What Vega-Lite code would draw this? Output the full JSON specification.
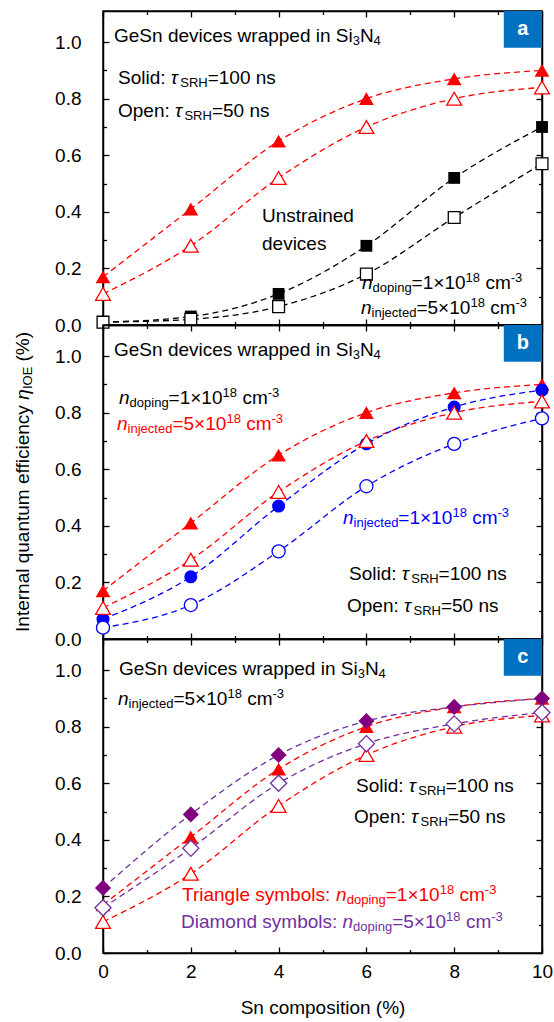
{
"$schema": "https://vega.github.io/schema/vega-lite/v6.json",
"padding": {"left": 13, "top": 9, "right": 0, "bottom": 5},
"bounds": "flush",
"spacing": 0,
"config": {"font": "Liberation Sans", "view": {"stroke": "black", "strokeWidth": 1.5},
  "axis": {"labelFont": "Liberation Sans", "labelFontSize": 19, "labelColor": "black", "tickColor": "black", "tickWidth": 1.3, "domainColor": "black", "domainWidth": 1.5, "grid": false, "labelFlush": false, "labelOverlap": false, "titleFont": "Liberation Sans", "titleFontSize": 19, "titleFontWeight": "normal", "titleColor": "black"}},
"datasets": {
"pts": [
{"panel":"a","sn":0,"iqe":0.17,"series":"tri","tau":100},{"panel":"a","sn":2,"iqe":0.41,"series":"tri","tau":100},{"panel":"a","sn":4,"iqe":0.65,"series":"tri","tau":100},{"panel":"a","sn":6,"iqe":0.80,"series":"tri","tau":100},{"panel":"a","sn":8,"iqe":0.87,"series":"tri","tau":100},{"panel":"a","sn":10,"iqe":0.90,"series":"tri","tau":100},
{"panel":"a","sn":0,"iqe":0.11,"series":"tri","tau":50},{"panel":"a","sn":2,"iqe":0.28,"series":"tri","tau":50},{"panel":"a","sn":4,"iqe":0.52,"series":"tri","tau":50},{"panel":"a","sn":6,"iqe":0.70,"series":"tri","tau":50},{"panel":"a","sn":8,"iqe":0.80,"series":"tri","tau":50},{"panel":"a","sn":10,"iqe":0.84,"series":"tri","tau":50},
{"panel":"a","sn":0,"iqe":0.01,"series":"sq","tau":100},{"panel":"a","sn":2,"iqe":0.03,"series":"sq","tau":100},{"panel":"a","sn":4,"iqe":0.11,"series":"sq","tau":100},{"panel":"a","sn":6,"iqe":0.28,"series":"sq","tau":100},{"panel":"a","sn":8,"iqe":0.52,"series":"sq","tau":100},{"panel":"a","sn":10,"iqe":0.70,"series":"sq","tau":100},
{"panel":"a","sn":0,"iqe":0.01,"series":"sq","tau":50},{"panel":"a","sn":2,"iqe":0.02,"series":"sq","tau":50},{"panel":"a","sn":4,"iqe":0.065,"series":"sq","tau":50},{"panel":"a","sn":6,"iqe":0.18,"series":"sq","tau":50},{"panel":"a","sn":8,"iqe":0.38,"series":"sq","tau":50},{"panel":"a","sn":10,"iqe":0.57,"series":"sq","tau":50},
{"panel":"b","sn":0,"iqe":0.17,"series":"tri","tau":100},{"panel":"b","sn":2,"iqe":0.41,"series":"tri","tau":100},{"panel":"b","sn":4,"iqe":0.65,"series":"tri","tau":100},{"panel":"b","sn":6,"iqe":0.80,"series":"tri","tau":100},{"panel":"b","sn":8,"iqe":0.87,"series":"tri","tau":100},{"panel":"b","sn":10,"iqe":0.90,"series":"tri","tau":100},
{"panel":"b","sn":0,"iqe":0.11,"series":"tri","tau":50},{"panel":"b","sn":2,"iqe":0.28,"series":"tri","tau":50},{"panel":"b","sn":4,"iqe":0.52,"series":"tri","tau":50},{"panel":"b","sn":6,"iqe":0.70,"series":"tri","tau":50},{"panel":"b","sn":8,"iqe":0.80,"series":"tri","tau":50},{"panel":"b","sn":10,"iqe":0.84,"series":"tri","tau":50},
{"panel":"b","sn":0,"iqe":0.07,"series":"circ","tau":100},{"panel":"b","sn":2,"iqe":0.22,"series":"circ","tau":100},{"panel":"b","sn":4,"iqe":0.47,"series":"circ","tau":100},{"panel":"b","sn":6,"iqe":0.69,"series":"circ","tau":100},{"panel":"b","sn":8,"iqe":0.82,"series":"circ","tau":100},{"panel":"b","sn":10,"iqe":0.88,"series":"circ","tau":100},
{"panel":"b","sn":0,"iqe":0.04,"series":"circ","tau":50},{"panel":"b","sn":2,"iqe":0.12,"series":"circ","tau":50},{"panel":"b","sn":4,"iqe":0.31,"series":"circ","tau":50},{"panel":"b","sn":6,"iqe":0.54,"series":"circ","tau":50},{"panel":"b","sn":8,"iqe":0.69,"series":"circ","tau":50},{"panel":"b","sn":10,"iqe":0.78,"series":"circ","tau":50},
{"panel":"c","sn":0,"iqe":0.17,"series":"tri","tau":100},{"panel":"c","sn":2,"iqe":0.41,"series":"tri","tau":100},{"panel":"c","sn":4,"iqe":0.65,"series":"tri","tau":100},{"panel":"c","sn":6,"iqe":0.80,"series":"tri","tau":100},{"panel":"c","sn":8,"iqe":0.87,"series":"tri","tau":100},{"panel":"c","sn":10,"iqe":0.90,"series":"tri","tau":100},
{"panel":"c","sn":0,"iqe":0.11,"series":"tri","tau":50},{"panel":"c","sn":2,"iqe":0.28,"series":"tri","tau":50},{"panel":"c","sn":4,"iqe":0.52,"series":"tri","tau":50},{"panel":"c","sn":6,"iqe":0.70,"series":"tri","tau":50},{"panel":"c","sn":8,"iqe":0.80,"series":"tri","tau":50},{"panel":"c","sn":10,"iqe":0.84,"series":"tri","tau":50},
{"panel":"c","sn":0,"iqe":0.23,"series":"dia","tau":100},{"panel":"c","sn":2,"iqe":0.49,"series":"dia","tau":100},{"panel":"c","sn":4,"iqe":0.70,"series":"dia","tau":100},{"panel":"c","sn":6,"iqe":0.82,"series":"dia","tau":100},{"panel":"c","sn":8,"iqe":0.87,"series":"dia","tau":100},{"panel":"c","sn":10,"iqe":0.90,"series":"dia","tau":100},
{"panel":"c","sn":0,"iqe":0.16,"series":"dia","tau":50},{"panel":"c","sn":2,"iqe":0.37,"series":"dia","tau":50},{"panel":"c","sn":4,"iqe":0.60,"series":"dia","tau":50},{"panel":"c","sn":6,"iqe":0.74,"series":"dia","tau":50},{"panel":"c","sn":8,"iqe":0.81,"series":"dia","tau":50},{"panel":"c","sn":10,"iqe":0.85,"series":"dia","tau":50}
],
"txt": [
{"p":"a","r":"main","g":"sq","x":0.251,"y":1.0,"t":"GeSn devices wrapped in Si"},{"p":"a","r":"sub","g":"sq","x":5.688,"y":1.0,"t":"3"},{"p":"a","r":"main","g":"sq","x":5.852,"y":1.0,"t":"N"},{"p":"a","r":"sub","g":"sq","x":6.164,"y":1.0,"t":"4"},
{"p":"a","r":"main","g":"sq","x":0.342,"y":0.852,"t":"Solid:"},{"p":"a","r":"ital","g":"sq","x":1.545,"y":0.852,"t":"τ"},{"p":"a","r":"sub","g":"sq","x":1.761,"y":0.852,"t":"SRH"},{"p":"a","r":"main","g":"sq","x":2.385,"y":0.852,"t":"=100 ns"},
{"p":"a","r":"main","g":"sq","x":0.342,"y":0.735,"t":"Open:"},{"p":"a","r":"ital","g":"sq","x":1.640,"y":0.735,"t":"τ"},{"p":"a","r":"sub","g":"sq","x":1.854,"y":0.735,"t":"SRH"},{"p":"a","r":"main","g":"sq","x":2.481,"y":0.735,"t":"=50 ns"},
{"p":"a","r":"main","g":"sq","x":3.622,"y":0.364,"t":"Unstrained"},{"p":"a","r":"main","g":"sq","x":3.622,"y":0.265,"t":"devices"},
{"p":"a","r":"ital","g":"sq","x":5.900,"y":0.127,"t":"n"},{"p":"a","r":"sub","g":"sq","x":6.141,"y":0.127,"t":"doping"},{"p":"a","r":"main","g":"sq","x":7.030,"y":0.127,"t":"=1×10"},{"p":"a","r":"sup","g":"sq","x":8.260,"y":0.127,"t":"18"},{"p":"a","r":"main","g":"sq","x":8.711,"y":0.127,"t":"cm"},{"p":"a","r":"sup","g":"sq","x":9.287,"y":0.127,"t":"-3"},
{"p":"a","r":"ital","g":"sq","x":5.877,"y":0.039,"t":"n"},{"p":"a","r":"sub","g":"sq","x":6.118,"y":0.039,"t":"injected"},{"p":"a","r":"main","g":"sq","x":7.139,"y":0.039,"t":"=5×10"},{"p":"a","r":"sup","g":"sq","x":8.369,"y":0.039,"t":"18"},{"p":"a","r":"main","g":"sq","x":8.821,"y":0.039,"t":"cm"},{"p":"a","r":"sup","g":"sq","x":9.396,"y":0.039,"t":"-3"},
{"p":"b","r":"main","g":"sq","x":0.251,"y":1.0,"t":"GeSn devices wrapped in Si"},{"p":"b","r":"sub","g":"sq","x":5.688,"y":1.0,"t":"3"},{"p":"b","r":"main","g":"sq","x":5.852,"y":1.0,"t":"N"},{"p":"b","r":"sub","g":"sq","x":6.164,"y":1.0,"t":"4"},
{"p":"b","r":"ital","g":"sq","x":0.364,"y":0.831,"t":"n"},{"p":"b","r":"sub","g":"sq","x":0.606,"y":0.831,"t":"doping"},{"p":"b","r":"main","g":"sq","x":1.494,"y":0.831,"t":"=1×10"},{"p":"b","r":"sup","g":"sq","x":2.724,"y":0.831,"t":"18"},{"p":"b","r":"main","g":"sq","x":3.176,"y":0.831,"t":"cm"},{"p":"b","r":"sup","g":"sq","x":3.752,"y":0.831,"t":"-3"},
{"p":"b","r":"ital","g":"tri","x":0.319,"y":0.739,"t":"n"},{"p":"b","r":"sub","g":"tri","x":0.560,"y":0.739,"t":"injected"},{"p":"b","r":"main","g":"tri","x":1.581,"y":0.739,"t":"=5×10"},{"p":"b","r":"sup","g":"tri","x":2.811,"y":0.739,"t":"18"},{"p":"b","r":"main","g":"tri","x":3.262,"y":0.739,"t":"cm"},{"p":"b","r":"sup","g":"tri","x":3.838,"y":0.739,"t":"-3"},
{"p":"b","r":"ital","g":"circ","x":5.467,"y":0.407,"t":"n"},{"p":"b","r":"sub","g":"circ","x":5.708,"y":0.407,"t":"injected"},{"p":"b","r":"main","g":"circ","x":6.727,"y":0.407,"t":"=1×10"},{"p":"b","r":"sup","g":"circ","x":7.959,"y":0.407,"t":"18"},{"p":"b","r":"main","g":"circ","x":8.410,"y":0.407,"t":"cm"},{"p":"b","r":"sup","g":"circ","x":8.986,"y":0.407,"t":"-3"},
{"p":"b","r":"main","g":"sq","x":5.604,"y":0.209,"t":"Solid:"},{"p":"b","r":"ital","g":"sq","x":6.806,"y":0.209,"t":"τ"},{"p":"b","r":"sub","g":"sq","x":7.023,"y":0.209,"t":"SRH"},{"p":"b","r":"main","g":"sq","x":7.645,"y":0.209,"t":"=100 ns"},
{"p":"b","r":"main","g":"sq","x":5.558,"y":0.095,"t":"Open:"},{"p":"b","r":"ital","g":"sq","x":6.856,"y":0.095,"t":"τ"},{"p":"b","r":"sub","g":"sq","x":7.073,"y":0.095,"t":"SRH"},{"p":"b","r":"main","g":"sq","x":7.697,"y":0.095,"t":"=50 ns"},
{"p":"b","r":"tmain","g":"sq","x":-1.686,"y":0.025,"t":"Internal quantum efficiency"},{"p":"b","r":"tital","g":"sq","x":-1.686,"y":0.846,"t":"η"},{"p":"b","r":"tsub","g":"sq","x":-1.686,"y":0.8835,"t":"IOE"},{"p":"b","r":"tmain","g":"sq","x":-1.686,"y":0.981,"t":"(%)"},
{"p":"c","r":"main","g":"sq","x":0.364,"y":0.983,"t":"GeSn devices wrapped in Si"},{"p":"c","r":"sub","g":"sq","x":5.802,"y":0.983,"t":"3"},{"p":"c","r":"main","g":"sq","x":5.966,"y":0.983,"t":"N"},{"p":"c","r":"sub","g":"sq","x":6.278,"y":0.983,"t":"4"},
{"p":"c","r":"ital","g":"sq","x":0.342,"y":0.877,"t":"n"},{"p":"c","r":"sub","g":"sq","x":0.583,"y":0.877,"t":"injected"},{"p":"c","r":"main","g":"sq","x":1.604,"y":0.877,"t":"=5×10"},{"p":"c","r":"sup","g":"sq","x":2.834,"y":0.877,"t":"18"},{"p":"c","r":"main","g":"sq","x":3.285,"y":0.877,"t":"cm"},{"p":"c","r":"sup","g":"sq","x":3.861,"y":0.877,"t":"-3"},
{"p":"c","r":"main","g":"sq","x":5.763,"y":0.569,"t":"Solid:"},{"p":"c","r":"ital","g":"sq","x":6.966,"y":0.569,"t":"τ"},{"p":"c","r":"sub","g":"sq","x":7.182,"y":0.569,"t":"SRH"},{"p":"c","r":"main","g":"sq","x":7.806,"y":0.569,"t":"=100 ns"},
{"p":"c","r":"main","g":"sq","x":5.718,"y":0.460,"t":"Open:"},{"p":"c","r":"ital","g":"sq","x":7.016,"y":0.460,"t":"τ"},{"p":"c","r":"sub","g":"sq","x":7.232,"y":0.460,"t":"SRH"},{"p":"c","r":"main","g":"sq","x":7.856,"y":0.460,"t":"=50 ns"},
{"p":"c","r":"main","g":"tri","x":1.800,"y":0.184,"t":"Triangle symbols:"},{"p":"c","r":"ital","g":"tri","x":5.310,"y":0.184,"t":"n"},{"p":"c","r":"sub","g":"tri","x":5.551,"y":0.184,"t":"doping"},{"p":"c","r":"main","g":"tri","x":6.440,"y":0.184,"t":"=1×10"},{"p":"c","r":"sup","g":"tri","x":7.670,"y":0.184,"t":"18"},{"p":"c","r":"main","g":"tri","x":8.121,"y":0.184,"t":"cm"},{"p":"c","r":"sup","g":"tri","x":8.697,"y":0.184,"t":"-3"},
{"p":"c","r":"main","g":"dia","x":1.777,"y":0.088,"t":"Diamond symbols:"},{"p":"c","r":"ital","g":"dia","x":5.456,"y":0.088,"t":"n"},{"p":"c","r":"sub","g":"dia","x":5.697,"y":0.088,"t":"doping"},{"p":"c","r":"main","g":"dia","x":6.586,"y":0.088,"t":"=5×10"},{"p":"c","r":"sup","g":"dia","x":7.816,"y":0.088,"t":"18"},{"p":"c","r":"main","g":"dia","x":8.267,"y":0.088,"t":"cm"},{"p":"c","r":"sup","g":"dia","x":8.843,"y":0.088,"t":"-3"}
],
"tags": [
{"p":"a","x":9.13,"x2":10,"y":0.98,"y2":1.11,"xc":9.565,"yc":1.045,"t":"a"},
{"p":"b","x":9.13,"x2":10,"y":0.98,"y2":1.11,"xc":9.565,"yc":1.045,"t":"b"},
{"p":"c","x":9.13,"x2":10,"y":0.98,"y2":1.11,"xc":9.565,"yc":1.045,"t":"c"}
]
},
"vconcat": [
{"width": 439, "height": 314, "resolve": {"axis": {"x": "independent", "y": "independent"}},
 "layer": [
  {"data": {"name": "pts"}, "transform": [{"filter": "datum.panel == 'a'"}],
   "mark": {"type": "line", "strokeDash": [6, 4], "strokeWidth": 1.3, "interpolate": "monotone"},
   "encoding": {
    "x": {"field": "sn", "type": "quantitative", "scale": {"domain": [0, 10], "nice": false}, "axis": {"orient": "bottom", "values": [0,1,2,3,4,5,6,7,8,9,10], "labels": false, "title": null, "tickSize": {"condition": {"test": "datum.value % 2 == 0", "value": -6}, "value": -3.5}}},
    "y": {"field": "iqe", "type": "quantitative", "scale": {"domain": [0, 1.11], "nice": false, "zero": false}, "axis": {"orient": "left", "values": [0,0.1,0.2,0.3,0.4,0.5,0.6,0.7,0.8,0.9,1.0], "labelExpr": "round(datum.value*10) % 2 == 0 ? format(datum.value, '.1f') : ''", "labelPadding": 28, "title": null, "tickSize": {"condition": {"test": "round(datum.value*10) % 2 == 0", "value": -6}, "value": -3.5}}},
    "color": {"field": "series", "type": "nominal", "scale": {"domain": ["tri","sq","circ","dia"], "range": ["#FF0000","#000000","#0000FF","#7030A0"]}, "legend": null},
    "detail": {"field": "tau"}}},
  {"data": {"name": "pts"}, "transform": [{"filter": "datum.panel == 'a' && datum.tau == 100"}],
   "mark": {"type": "point", "filled": true, "opacity": 1},
   "encoding": {
    "x": {"field": "sn", "type": "quantitative", "axis": {"orient": "top", "values": [0,1,2,3,4,5,6,7,8,9,10], "labels": false, "title": null, "tickSize": {"condition": {"test": "datum.value % 2 == 0", "value": -6}, "value": -3.5}}},
    "y": {"field": "iqe", "type": "quantitative", "axis": {"orient": "right", "values": [0,0.1,0.2,0.3,0.4,0.5,0.6,0.7,0.8,0.9,1.0,1.1], "labels": false, "title": null, "tickSize": {"condition": {"test": "round(datum.value*10) % 2 == 0", "value": -6}, "value": -3.5}}},
    "shape": {"field": "series", "type": "nominal", "scale": {"domain": ["tri","sq","circ","dia"], "range": ["triangle-up","square","circle","diamond"]}, "legend": null},
    "size": {"field": "series", "type": "nominal", "scale": {"type": "ordinal", "domain": ["tri","sq","circ","dia"], "range": [220,140,170,260]}, "legend": null},
    "fill": {"field": "series", "type": "nominal", "scale": {"domain": ["tri","sq","circ","dia"], "range": ["#FF0000","#000000","#0000FF","#800080"]}, "legend": null}}},
  {"data": {"name": "pts"}, "transform": [{"filter": "datum.panel == 'a' && datum.tau == 50"}],
   "mark": {"type": "point", "filled": false, "fill": "white", "fillOpacity": 1, "strokeWidth": 1.3, "opacity": 1},
   "encoding": {
    "x": {"field": "sn", "type": "quantitative", "axis": null},
    "y": {"field": "iqe", "type": "quantitative", "axis": null},
    "shape": {"field": "series", "type": "nominal", "scale": {"domain": ["tri","sq","circ","dia"], "range": ["triangle-up","square","circle","diamond"]}, "legend": null},
    "size": {"field": "series", "type": "nominal", "scale": {"type": "ordinal", "domain": ["tri","sq","circ","dia"], "range": [220,140,170,260]}, "legend": null},
    "stroke": {"field": "series", "type": "nominal", "scale": {"domain": ["tri","sq","circ","dia"], "range": ["#FF0000","#000000","#0000FF","#7030A0"]}, "legend": null}}},
  {"data": {"name": "txt"}, "transform": [{"filter": "datum.p == 'a' && datum.r == 'main'"}],
   "mark": {"type": "text", "align": "left", "baseline": "alphabetic", "fontSize": 19},
   "encoding": {"x": {"field": "x", "type": "quantitative", "axis": null}, "y": {"field": "y", "type": "quantitative", "axis": null}, "text": {"field": "t"}, "color": {"field": "g", "type": "nominal", "legend": null}}},
  {"data": {"name": "txt"}, "transform": [{"filter": "datum.p == 'a' && datum.r == 'ital'"}],
   "mark": {"type": "text", "align": "left", "baseline": "alphabetic", "fontSize": 19, "fontStyle": "italic"},
   "encoding": {"x": {"field": "x", "type": "quantitative", "axis": null}, "y": {"field": "y", "type": "quantitative", "axis": null}, "text": {"field": "t"}, "color": {"field": "g", "type": "nominal", "legend": null}}},
  {"data": {"name": "txt"}, "transform": [{"filter": "datum.p == 'a' && datum.r == 'sub'"}],
   "mark": {"type": "text", "align": "left", "baseline": "alphabetic", "fontSize": 13, "dy": 3},
   "encoding": {"x": {"field": "x", "type": "quantitative", "axis": null}, "y": {"field": "y", "type": "quantitative", "axis": null}, "text": {"field": "t"}, "color": {"field": "g", "type": "nominal", "legend": null}}},
  {"data": {"name": "txt"}, "transform": [{"filter": "datum.p == 'a' && datum.r == 'sup'"}],
   "mark": {"type": "text", "align": "left", "baseline": "alphabetic", "fontSize": 13, "dy": -7},
   "encoding": {"x": {"field": "x", "type": "quantitative", "axis": null}, "y": {"field": "y", "type": "quantitative", "axis": null}, "text": {"field": "t"}, "color": {"field": "g", "type": "nominal", "legend": null}}},
  {"data": {"name": "tags"}, "transform": [{"filter": "datum.p == 'a'"}],
   "mark": {"type": "rect", "fill": "#0070C0"},
   "encoding": {"x": {"field": "x", "type": "quantitative", "axis": null}, "x2": {"field": "x2"}, "y": {"field": "y", "type": "quantitative", "axis": null}, "y2": {"field": "y2"}}},
  {"data": {"name": "tags"}, "transform": [{"filter": "datum.p == 'a'"}],
   "mark": {"type": "text", "align": "center", "baseline": "middle", "fontSize": 20, "fontWeight": "bold", "fill": "white"},
   "encoding": {"x": {"field": "xc", "type": "quantitative", "axis": null}, "y": {"field": "yc", "type": "quantitative", "axis": null}, "text": {"field": "t"}}}
 ]},
{"width": 439, "height": 314, "resolve": {"axis": {"x": "independent", "y": "independent"}},
 "layer": [
  {"data": {"name": "pts"}, "transform": [{"filter": "datum.panel == 'b'"}],
   "mark": {"type": "line", "strokeDash": [6, 4], "strokeWidth": 1.3, "interpolate": "monotone"},
   "encoding": {
    "x": {"field": "sn", "type": "quantitative", "scale": {"domain": [0, 10], "nice": false}, "axis": {"orient": "bottom", "values": [0,1,2,3,4,5,6,7,8,9,10], "labels": false, "title": null, "tickSize": {"condition": {"test": "datum.value % 2 == 0", "value": -6}, "value": -3.5}}},
    "y": {"field": "iqe", "type": "quantitative", "scale": {"domain": [0, 1.11], "nice": false, "zero": false}, "axis": {"orient": "left", "values": [0,0.1,0.2,0.3,0.4,0.5,0.6,0.7,0.8,0.9,1.0], "labelExpr": "round(datum.value*10) % 2 == 0 ? format(datum.value, '.1f') : ''", "labelPadding": 28, "title": null, "tickSize": {"condition": {"test": "round(datum.value*10) % 2 == 0", "value": -6}, "value": -3.5}}},
    "color": {"field": "series", "type": "nominal", "scale": {"domain": ["tri","sq","circ","dia"], "range": ["#FF0000","#000000","#0000FF","#7030A0"]}, "legend": null},
    "detail": {"field": "tau"}}},
  {"data": {"name": "pts"}, "transform": [{"filter": "datum.panel == 'b' && datum.tau == 100"}],
   "mark": {"type": "point", "filled": true, "opacity": 1},
   "encoding": {
    "x": {"field": "sn", "type": "quantitative", "axis": {"orient": "top", "values": [0,1,2,3,4,5,6,7,8,9,10], "labels": false, "title": null, "tickSize": {"condition": {"test": "datum.value % 2 == 0", "value": -6}, "value": -3.5}}},
    "y": {"field": "iqe", "type": "quantitative", "axis": {"orient": "right", "values": [0,0.1,0.2,0.3,0.4,0.5,0.6,0.7,0.8,0.9,1.0,1.1], "labels": false, "title": null, "tickSize": {"condition": {"test": "round(datum.value*10) % 2 == 0", "value": -6}, "value": -3.5}}},
    "shape": {"field": "series", "type": "nominal", "scale": {"domain": ["tri","sq","circ","dia"], "range": ["triangle-up","square","circle","diamond"]}, "legend": null},
    "size": {"field": "series", "type": "nominal", "scale": {"type": "ordinal", "domain": ["tri","sq","circ","dia"], "range": [220,140,170,260]}, "legend": null},
    "fill": {"field": "series", "type": "nominal", "scale": {"domain": ["tri","sq","circ","dia"], "range": ["#FF0000","#000000","#0000FF","#800080"]}, "legend": null}}},
  {"data": {"name": "pts"}, "transform": [{"filter": "datum.panel == 'b' && datum.tau == 50"}],
   "mark": {"type": "point", "filled": false, "fill": "white", "fillOpacity": 1, "strokeWidth": 1.3, "opacity": 1},
   "encoding": {
    "x": {"field": "sn", "type": "quantitative", "axis": null},
    "y": {"field": "iqe", "type": "quantitative", "axis": null},
    "shape": {"field": "series", "type": "nominal", "scale": {"domain": ["tri","sq","circ","dia"], "range": ["triangle-up","square","circle","diamond"]}, "legend": null},
    "size": {"field": "series", "type": "nominal", "scale": {"type": "ordinal", "domain": ["tri","sq","circ","dia"], "range": [220,140,170,260]}, "legend": null},
    "stroke": {"field": "series", "type": "nominal", "scale": {"domain": ["tri","sq","circ","dia"], "range": ["#FF0000","#000000","#0000FF","#7030A0"]}, "legend": null}}},
  {"data": {"name": "txt"}, "transform": [{"filter": "datum.p == 'b' && datum.r == 'main'"}],
   "mark": {"type": "text", "align": "left", "baseline": "alphabetic", "fontSize": 19},
   "encoding": {"x": {"field": "x", "type": "quantitative", "axis": null}, "y": {"field": "y", "type": "quantitative", "axis": null}, "text": {"field": "t"}, "color": {"field": "g", "type": "nominal", "legend": null}}},
  {"data": {"name": "txt"}, "transform": [{"filter": "datum.p == 'b' && datum.r == 'ital'"}],
   "mark": {"type": "text", "align": "left", "baseline": "alphabetic", "fontSize": 19, "fontStyle": "italic"},
   "encoding": {"x": {"field": "x", "type": "quantitative", "axis": null}, "y": {"field": "y", "type": "quantitative", "axis": null}, "text": {"field": "t"}, "color": {"field": "g", "type": "nominal", "legend": null}}},
  {"data": {"name": "txt"}, "transform": [{"filter": "datum.p == 'b' && datum.r == 'sub'"}],
   "mark": {"type": "text", "align": "left", "baseline": "alphabetic", "fontSize": 13, "dy": 3},
   "encoding": {"x": {"field": "x", "type": "quantitative", "axis": null}, "y": {"field": "y", "type": "quantitative", "axis": null}, "text": {"field": "t"}, "color": {"field": "g", "type": "nominal", "legend": null}}},
  {"data": {"name": "txt"}, "transform": [{"filter": "datum.p == 'b' && datum.r == 'sup'"}],
   "mark": {"type": "text", "align": "left", "baseline": "alphabetic", "fontSize": 13, "dy": -7},
   "encoding": {"x": {"field": "x", "type": "quantitative", "axis": null}, "y": {"field": "y", "type": "quantitative", "axis": null}, "text": {"field": "t"}, "color": {"field": "g", "type": "nominal", "legend": null}}},
  {"data": {"name": "txt"}, "transform": [{"filter": "datum.p == 'b' && datum.r == 'tmain'"}],
   "mark": {"type": "text", "align": "left", "baseline": "alphabetic", "fontSize": 19, "angle": 270},
   "encoding": {"x": {"field": "x", "type": "quantitative", "axis": null}, "y": {"field": "y", "type": "quantitative", "axis": null}, "text": {"field": "t"}, "color": {"field": "g", "type": "nominal", "legend": null}}},
  {"data": {"name": "txt"}, "transform": [{"filter": "datum.p == 'b' && datum.r == 'tital'"}],
   "mark": {"type": "text", "align": "left", "baseline": "alphabetic", "fontSize": 19, "fontStyle": "italic", "angle": 270},
   "encoding": {"x": {"field": "x", "type": "quantitative", "axis": null}, "y": {"field": "y", "type": "quantitative", "axis": null}, "text": {"field": "t"}, "color": {"field": "g", "type": "nominal", "legend": null}}},
  {"data": {"name": "txt"}, "transform": [{"filter": "datum.p == 'b' && datum.r == 'tsub'"}],
   "mark": {"type": "text", "align": "left", "baseline": "alphabetic", "fontSize": 13, "dy": 3, "angle": 270},
   "encoding": {"x": {"field": "x", "type": "quantitative", "axis": null}, "y": {"field": "y", "type": "quantitative", "axis": null}, "text": {"field": "t"}, "color": {"field": "g", "type": "nominal", "legend": null}}},
  {"data": {"name": "tags"}, "transform": [{"filter": "datum.p == 'b'"}],
   "mark": {"type": "rect", "fill": "#0070C0"},
   "encoding": {"x": {"field": "x", "type": "quantitative", "axis": null}, "x2": {"field": "x2"}, "y": {"field": "y", "type": "quantitative", "axis": null}, "y2": {"field": "y2"}}},
  {"data": {"name": "tags"}, "transform": [{"filter": "datum.p == 'b'"}],
   "mark": {"type": "text", "align": "center", "baseline": "middle", "fontSize": 20, "fontWeight": "bold", "fill": "white"},
   "encoding": {"x": {"field": "xc", "type": "quantitative", "axis": null}, "y": {"field": "yc", "type": "quantitative", "axis": null}, "text": {"field": "t"}}}
 ]},
{"width": 439, "height": 314, "resolve": {"axis": {"x": "independent", "y": "independent"}},
 "layer": [
  {"data": {"name": "pts"}, "transform": [{"filter": "datum.panel == 'c'"}],
   "mark": {"type": "line", "strokeDash": [6, 4], "strokeWidth": 1.3, "interpolate": "monotone"},
   "encoding": {
    "x": {"field": "sn", "type": "quantitative", "scale": {"domain": [0, 10], "nice": false}, "axis": {"orient": "bottom", "values": [0,1,2,3,4,5,6,7,8,9,10], "labelExpr": "datum.value % 2 == 0 ? format(datum.value, 'd') : ''", "labelPadding": 15, "title": "Sn composition (%)", "titlePadding": 15, "tickSize": {"condition": {"test": "datum.value % 2 == 0", "value": -6}, "value": -3.5}}},
    "y": {"field": "iqe", "type": "quantitative", "scale": {"domain": [0, 1.11], "nice": false, "zero": false}, "axis": {"orient": "left", "values": [0,0.1,0.2,0.3,0.4,0.5,0.6,0.7,0.8,0.9,1.0], "labelExpr": "round(datum.value*10) % 2 == 0 ? format(datum.value, '.1f') : ''", "labelPadding": 28, "title": null, "tickSize": {"condition": {"test": "round(datum.value*10) % 2 == 0", "value": -6}, "value": -3.5}}},
    "color": {"field": "series", "type": "nominal", "scale": {"domain": ["tri","sq","circ","dia"], "range": ["#FF0000","#000000","#0000FF","#7030A0"]}, "legend": null},
    "detail": {"field": "tau"}}},
  {"data": {"name": "pts"}, "transform": [{"filter": "datum.panel == 'c' && datum.tau == 100"}],
   "mark": {"type": "point", "filled": true, "opacity": 1},
   "encoding": {
    "x": {"field": "sn", "type": "quantitative", "axis": {"orient": "top", "values": [0,1,2,3,4,5,6,7,8,9,10], "labels": false, "title": null, "tickSize": {"condition": {"test": "datum.value % 2 == 0", "value": -6}, "value": -3.5}}},
    "y": {"field": "iqe", "type": "quantitative", "axis": {"orient": "right", "values": [0,0.1,0.2,0.3,0.4,0.5,0.6,0.7,0.8,0.9,1.0,1.1], "labels": false, "title": null, "tickSize": {"condition": {"test": "round(datum.value*10) % 2 == 0", "value": -6}, "value": -3.5}}},
    "shape": {"field": "series", "type": "nominal", "scale": {"domain": ["tri","sq","circ","dia"], "range": ["triangle-up","square","circle","diamond"]}, "legend": null},
    "size": {"field": "series", "type": "nominal", "scale": {"type": "ordinal", "domain": ["tri","sq","circ","dia"], "range": [220,140,170,260]}, "legend": null},
    "fill": {"field": "series", "type": "nominal", "scale": {"domain": ["tri","sq","circ","dia"], "range": ["#FF0000","#000000","#0000FF","#800080"]}, "legend": null}}},
  {"data": {"name": "pts"}, "transform": [{"filter": "datum.panel == 'c' && datum.tau == 50"}],
   "mark": {"type": "point", "filled": false, "fill": "white", "fillOpacity": 1, "strokeWidth": 1.3, "opacity": 1},
   "encoding": {
    "x": {"field": "sn", "type": "quantitative", "axis": null},
    "y": {"field": "iqe", "type": "quantitative", "axis": null},
    "shape": {"field": "series", "type": "nominal", "scale": {"domain": ["tri","sq","circ","dia"], "range": ["triangle-up","square","circle","diamond"]}, "legend": null},
    "size": {"field": "series", "type": "nominal", "scale": {"type": "ordinal", "domain": ["tri","sq","circ","dia"], "range": [220,140,170,260]}, "legend": null},
    "stroke": {"field": "series", "type": "nominal", "scale": {"domain": ["tri","sq","circ","dia"], "range": ["#FF0000","#000000","#0000FF","#7030A0"]}, "legend": null}}},
  {"data": {"name": "txt"}, "transform": [{"filter": "datum.p == 'c' && datum.r == 'main'"}],
   "mark": {"type": "text", "align": "left", "baseline": "alphabetic", "fontSize": 19},
   "encoding": {"x": {"field": "x", "type": "quantitative", "axis": null}, "y": {"field": "y", "type": "quantitative", "axis": null}, "text": {"field": "t"}, "color": {"field": "g", "type": "nominal", "legend": null}}},
  {"data": {"name": "txt"}, "transform": [{"filter": "datum.p == 'c' && datum.r == 'ital'"}],
   "mark": {"type": "text", "align": "left", "baseline": "alphabetic", "fontSize": 19, "fontStyle": "italic"},
   "encoding": {"x": {"field": "x", "type": "quantitative", "axis": null}, "y": {"field": "y", "type": "quantitative", "axis": null}, "text": {"field": "t"}, "color": {"field": "g", "type": "nominal", "legend": null}}},
  {"data": {"name": "txt"}, "transform": [{"filter": "datum.p == 'c' && datum.r == 'sub'"}],
   "mark": {"type": "text", "align": "left", "baseline": "alphabetic", "fontSize": 13, "dy": 3},
   "encoding": {"x": {"field": "x", "type": "quantitative", "axis": null}, "y": {"field": "y", "type": "quantitative", "axis": null}, "text": {"field": "t"}, "color": {"field": "g", "type": "nominal", "legend": null}}},
  {"data": {"name": "txt"}, "transform": [{"filter": "datum.p == 'c' && datum.r == 'sup'"}],
   "mark": {"type": "text", "align": "left", "baseline": "alphabetic", "fontSize": 13, "dy": -7},
   "encoding": {"x": {"field": "x", "type": "quantitative", "axis": null}, "y": {"field": "y", "type": "quantitative", "axis": null}, "text": {"field": "t"}, "color": {"field": "g", "type": "nominal", "legend": null}}},
  {"data": {"name": "tags"}, "transform": [{"filter": "datum.p == 'c'"}],
   "mark": {"type": "rect", "fill": "#0070C0"},
   "encoding": {"x": {"field": "x", "type": "quantitative", "axis": null}, "x2": {"field": "x2"}, "y": {"field": "y", "type": "quantitative", "axis": null}, "y2": {"field": "y2"}}},
  {"data": {"name": "tags"}, "transform": [{"filter": "datum.p == 'c'"}],
   "mark": {"type": "text", "align": "center", "baseline": "middle", "fontSize": 20, "fontWeight": "bold", "fill": "white"},
   "encoding": {"x": {"field": "xc", "type": "quantitative", "axis": null}, "y": {"field": "yc", "type": "quantitative", "axis": null}, "text": {"field": "t"}}}
 ]}
]
}
